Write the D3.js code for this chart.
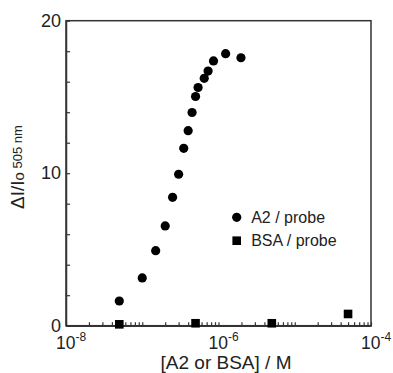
<!DOCTYPE html>
<html>
<head>
<meta charset="utf-8">
<script src="https://cdn.jsdelivr.net/npm/d3@7"></script>
<style>
  body { margin: 0; background: #fff; }
  svg { display: block; font-family: "Liberation Sans", Arial, sans-serif; }
</style>
</head>
<body>
<svg id="chart"></svg>
<script>
// A2 / probe titration
const a2Conc = [5e-8, 1e-7, 1.5e-7, 2e-7, 2.5e-7, 3e-7, 3.5e-7, 4e-7, 4.5e-7, 5e-7, 5.4e-7, 6.5e-7, 7.3e-7, 8.6e-7, 1.24e-6, 1.97e-6];
const a2Resp = [1.62, 3.13, 4.92, 6.54, 8.42, 9.93, 11.63, 12.79, 13.98, 15.03, 15.62, 16.22, 16.70, 17.36, 17.84, 17.57];
// BSA / probe control
const bsaConc = [5e-8, 5e-7, 5e-6, 5e-5];
const bsaResp = [0.09, 0.16, 0.16, 0.77];

const xLabelExps = [-8, -6, -4];
const yTickVals = [0, 2, 4, 6, 8, 10, 12, 14, 16, 18, 20];
const yLabelVals = [0, 10, 20];
const seriesNames = ["A2 / probe", "BSA / probe"];

const width = 393, height = 373;
const margin = {top: 20.7, right: 22, bottom: 47.3, left: 66};

const svg = d3.select("#chart")
    .attr("width", width)
    .attr("height", height);

const x = d3.scaleLog([1e-8, 1e-4], [margin.left, width - margin.right]);
const y = d3.scaleLinear([0, 20], [height - margin.bottom, margin.top]);

const axisColor = "#333";

// frame
svg.append("rect")
    .attr("x", x.range()[0])
    .attr("y", y.range()[1])
    .attr("width", x.range()[1] - x.range()[0])
    .attr("height", y.range()[0] - y.range()[1])
    .attr("fill", "none")
    .attr("stroke", axisColor)
    .attr("stroke-width", 1.5);

// x axis, ticks pointing inward
svg.append("g")
    .attr("transform", `translate(0,${y(0)})`)
    .call(d3.axisBottom(x).tickValues(x.ticks()).tickSizeInner(-3.5).tickSizeOuter(0).tickFormat(""))
    .call(g => g.select(".domain").attr("stroke", axisColor).attr("stroke-width", 1.5))
    .call(g => g.selectAll(".tick line").attr("stroke", axisColor).attr("stroke-width", 1.2));

svg.append("g")
    .selectAll("text")
    .data(xLabelExps)
    .join("text")
      .attr("x", d => x(Math.pow(10, d)) - 10)
      .attr("y", y(0) + 23)
      .attr("fill", "#222")
      .attr("font-size", 17.5)
      .call(t => t.append("tspan").text("10"))
      .call(t => t.append("tspan")
          .attr("font-size", 12)
          .attr("dy", -7.5)
          .text(d => `${d}`));

// y axis
svg.append("g")
    .attr("transform", `translate(${x(1e-8)},0)`)
    .call(d3.axisLeft(y).tickValues(yTickVals).tickSizeInner(-4).tickSizeOuter(0).tickPadding(5)
        .tickFormat(d => yLabelVals.includes(d) ? d : ""))
    .call(g => g.select(".domain").attr("stroke", axisColor).attr("stroke-width", 1.5))
    .call(g => g.selectAll(".tick line").attr("stroke", axisColor).attr("stroke-width", 1.2))
    .call(g => g.selectAll(".tick text")
        .attr("fill", "#222")
        .attr("font-size", 18)
        .attr("font-family", "Liberation Sans, Arial, sans-serif"));

// axis titles
svg.append("text")
    .attr("x", 226)
    .attr("y", 369)
    .attr("text-anchor", "middle")
    .attr("fill", "#222")
    .attr("font-size", 19)
    .text("[A2 or BSA] / M");

const yTitle = svg.append("text")
    .attr("transform", `translate(23.5,167) rotate(-90)`)
    .attr("text-anchor", "middle")
    .attr("fill", "#222")
    .attr("font-size", 19);
yTitle.append("tspan").text("ΔI/I");
yTitle.append("tspan").attr("font-size", 15).text("o");
yTitle.append("tspan").attr("font-size", 13).attr("dy", -2).text(" 505 nm");

// data
svg.append("g")
  .selectAll("circle")
  .data(a2Conc.map((c, i) => [c, a2Resp[i]]))
  .join("circle")
    .attr("cx", d => x(d[0]))
    .attr("cy", d => y(d[1]))
    .attr("r", 4.6)
    .attr("fill", "#000");

const sq = 8.6;
svg.append("g")
  .selectAll("rect")
  .data(bsaConc.map((c, i) => [c, bsaResp[i]]))
  .join("rect")
    .attr("x", d => x(d[0]) - sq / 2)
    .attr("y", d => y(d[1]) - sq / 2)
    .attr("width", sq)
    .attr("height", sq)
    .attr("fill", "#000");

// legend
const legend = svg.append("g").attr("transform", "translate(236.7,217.3)");
legend.append("circle").attr("r", 4.6).attr("fill", "#000");
legend.append("rect").attr("x", -sq / 2).attr("y", 23.4 - sq / 2).attr("width", sq).attr("height", sq).attr("fill", "#000");
legend.selectAll("text")
  .data(seriesNames)
  .join("text")
    .attr("x", 14.5)
    .attr("y", (d, i) => i * 23.4 + 5.8)
    .attr("fill", "#222")
    .attr("font-size", 16)
    .text(d => d);
</script>
</body>
</html>
